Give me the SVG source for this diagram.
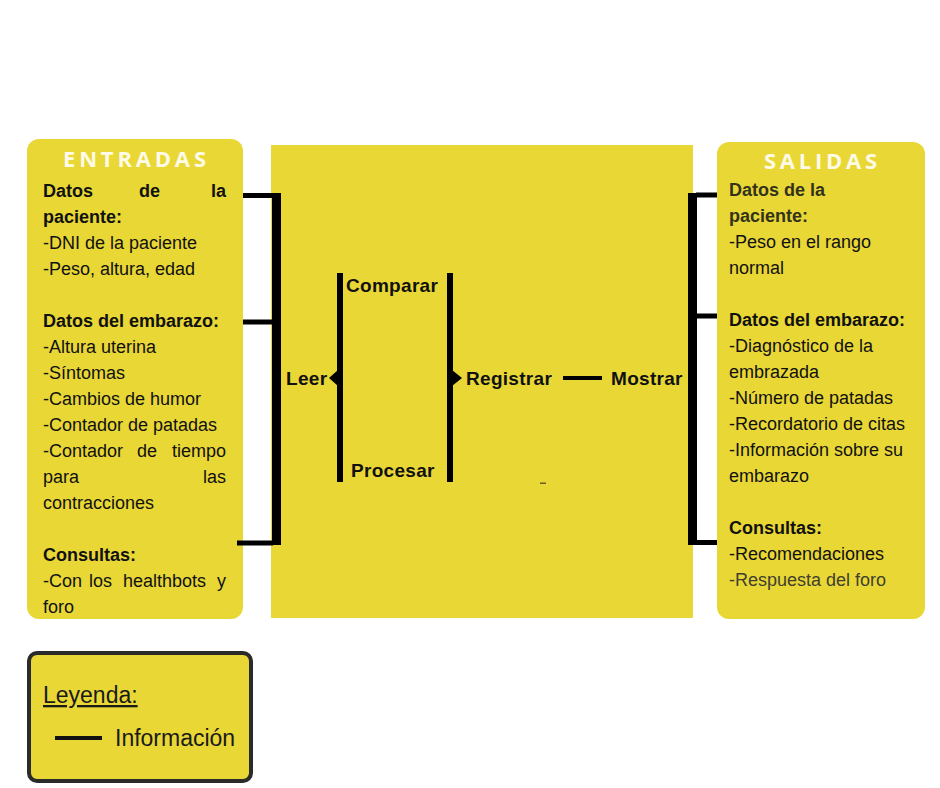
<svg xmlns="http://www.w3.org/2000/svg" width="940" height="788" viewBox="0 0 940 788">
<style>
.box{fill:#E9D736}
.t{font-family:"Liberation Sans",Arial,sans-serif;font-size:18px;fill:#111}
.b{font-weight:bold}
.e{text-anchor:end}
.ttl{font-family:"Open Sans","DejaVu Sans",sans-serif;font-weight:bold;font-size:22px;fill:#FFFBE6}
.p{font-family:"Liberation Sans",Arial,sans-serif;font-size:19px;font-weight:bold;fill:#111;letter-spacing:0.3px}
.ln{fill:#000}
</style>
<rect width="940" height="788" fill="#fff"/>
<g id="entradas">
<rect class="box" x="27" y="139" width="216" height="480" rx="12"/>
<text class="ttl" x="63" y="167" textLength="143" lengthAdjust="spacing">ENTRADAS</text>
<text class="t b" x="43" y="197">Datos</text>
<text class="t b" x="139" y="197">de</text>
<text class="t b e" x="226" y="197">la</text>
<text class="t b" x="43" y="223">paciente:</text>
<text class="t" x="43" y="249">-DNI de la paciente</text>
<text class="t" x="43" y="275">-Peso, altura, edad</text>
<text class="t b" x="43" y="327">Datos del embarazo:</text>
<text class="t" x="43" y="353">-Altura uterina</text>
<text class="t" x="43" y="379">-Síntomas</text>
<text class="t" x="43" y="405">-Cambios de humor</text>
<text class="t" x="43" y="431">-Contador de patadas</text>
<text class="t" x="43" y="457">-Contador</text>
<text class="t" x="137" y="457">de</text>
<text class="t e" x="226" y="457">tiempo</text>
<text class="t" x="43" y="483">para</text>
<text class="t e" x="226" y="483">las</text>
<text class="t" x="43" y="509">contracciones</text>
<text class="t b" x="43" y="561">Consultas:</text>
<text class="t" x="43" y="587">-Con</text>
<text class="t" x="89" y="587">los</text>
<text class="t" x="123" y="587">healthbots</text>
<text class="t e" x="226" y="587">y</text>
<text class="t" x="43" y="613">foro</text>
</g>
<g id="proceso">
<rect class="box" x="271" y="145" width="422" height="473"/>
<text class="p" x="286" y="385">Leer</text>
<text class="p" x="346" y="292">Comparar</text>
<text class="p" x="351" y="477">Procesar</text>
<text class="p" x="466" y="385">Registrar</text>
<text class="p" x="611" y="385">Mostrar</text>
<rect x="540" y="482.5" width="6" height="1.5" fill="#6b6020"/>
</g>
<g id="salidas">
<rect class="box" x="717" y="142" width="208" height="477" rx="12"/>
<text class="ttl" x="764" y="169" textLength="113" lengthAdjust="spacing">SALIDAS</text>
<text class="t b" x="729" y="196" style="fill:#33321a">Datos de la</text>
<text class="t b" x="729" y="222" style="fill:#33321a">paciente:</text>
<text class="t" x="729" y="248">-Peso en el rango</text>
<text class="t" x="729" y="274">normal</text>
<text class="t b" x="729" y="326">Datos del embarazo:</text>
<text class="t" x="729" y="352">-Diagnóstico de la</text>
<text class="t" x="729" y="378">embrazada</text>
<text class="t" x="729" y="404">-Número de patadas</text>
<text class="t" x="729" y="430">-Recordatorio de citas</text>
<text class="t" x="729" y="456">-Información sobre su</text>
<text class="t" x="729" y="482">embarazo</text>
<text class="t b" x="729" y="534">Consultas:</text>
<text class="t" x="729" y="560">-Recomendaciones</text>
<text class="t" x="729" y="586" style="fill:#403f2e">-Respuesta del foro</text>
</g>
<g id="connectors">
<rect class="ln" x="272" y="193" width="9" height="352"/>
<rect class="ln" x="243" y="193" width="30" height="5"/>
<rect class="ln" x="243" y="319.5" width="30" height="5"/>
<rect class="ln" x="237" y="540.5" width="36" height="5"/>
<rect class="ln" x="337" y="273" width="6" height="209"/>
<polygon class="ln" points="338,370 329,378 338,386"/>
<rect class="ln" x="447" y="273" width="6" height="209"/>
<polygon class="ln" points="452,370 462,378 452,386"/>
<rect class="ln" x="563" y="376" width="39" height="4"/>
<rect class="ln" x="688" y="193" width="9" height="352"/>
<rect class="ln" x="696" y="192.5" width="21" height="5"/>
<rect class="ln" x="696" y="313.5" width="21" height="5"/>
<rect class="ln" x="696" y="540" width="21" height="5"/>
</g>
<g id="leyenda">
<rect x="29" y="653" width="222" height="128" rx="8" fill="#E9D736" stroke="#2b2b2b" stroke-width="4"/>
<text x="43" y="703" style="font-family:'Liberation Sans',Arial,sans-serif;font-size:23px;fill:#1a1a1a;text-decoration:underline">Leyenda:</text>
<rect x="55" y="736" width="47" height="4" fill="#111"/>
<text x="115" y="746" style="font-family:'Liberation Sans',Arial,sans-serif;font-size:23px;fill:#1a1a1a">Información</text>
</g>
</svg>
